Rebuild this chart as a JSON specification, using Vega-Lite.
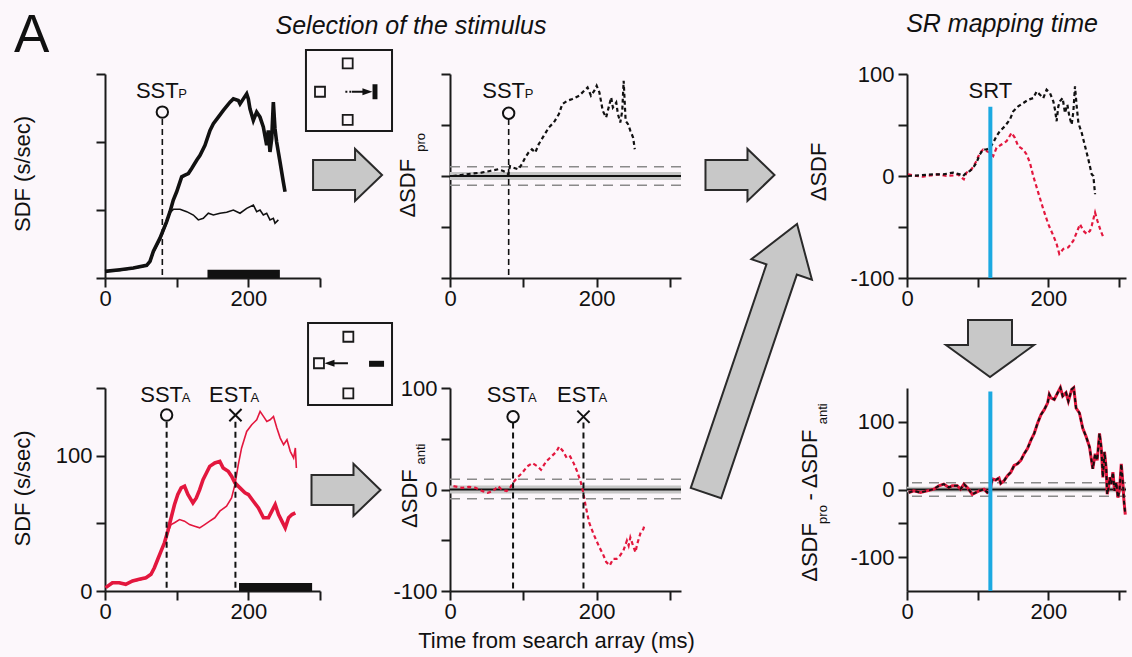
{
  "$schema": "https://vega.github.io/schema/vega-lite/v6.json",
  "background": "#fcf7fb",
  "padding": 0,
  "columns": 7,
  "spacing": 0,
  "align": "each",
  "bounds": "flush",
  "datasets": {
    "tl": [
      {"series":"target","t":0,"v":4.9},{"series":"target","t":20.9,"v":6.1},{"series":"target","t":39.5,"v":7.3},{"series":"target","t":58.1,"v":9.3},{"series":"target","t":62.8,"v":12.2},{"series":"target","t":67.4,"v":19.5},{"series":"target","t":76.7,"v":29.3},{"series":"target","t":86,"v":41.5},{"series":"target","t":90.7,"v":48.8},{"series":"target","t":95.3,"v":57.3},{"series":"target","t":100,"v":63.4},{"series":"target","t":107,"v":74.4},{"series":"target","t":111.6,"v":75.6},{"series":"target","t":116.3,"v":76.8},{"series":"target","t":120.9,"v":80.5},{"series":"target","t":127.9,"v":86.6},{"series":"target","t":132.6,"v":90.2},{"series":"target","t":139.5,"v":97.6},{"series":"target","t":146.5,"v":108.5},{"series":"target","t":151.2,"v":113.4},{"series":"target","t":158.1,"v":118.3},{"series":"target","t":165.1,"v":123.2},{"series":"target","t":174.4,"v":129.3},{"series":"target","t":179.1,"v":131.7},{"series":"target","t":186,"v":130.5},{"series":"target","t":188.4,"v":128},{"series":"target","t":193,"v":131.7},{"series":"target","t":197.7,"v":135.4},{"series":"target","t":200,"v":131.7},{"series":"target","t":202.3,"v":124.4},{"series":"target","t":207,"v":115.9},{"series":"target","t":211.6,"v":122},{"series":"target","t":216.3,"v":118.3},{"series":"target","t":220.9,"v":111},{"series":"target","t":225.6,"v":97.6},{"series":"target","t":227.9,"v":108.5},{"series":"target","t":230.2,"v":92.7},{"series":"target","t":232.6,"v":102.4},{"series":"target","t":234.9,"v":129.3},{"series":"target","t":237.2,"v":109.8},{"series":"target","t":239.5,"v":100},{"series":"target","t":244.2,"v":85.4},{"series":"target","t":248.8,"v":70.7},{"series":"target","t":251.2,"v":63.4},
      {"series":"distractor","t":0,"v":4.9},{"series":"distractor","t":20.9,"v":5.5},{"series":"distractor","t":39.5,"v":7},{"series":"distractor","t":58.1,"v":9},{"series":"distractor","t":62.8,"v":11.5},{"series":"distractor","t":67.4,"v":18.5},{"series":"distractor","t":76.7,"v":28},{"series":"distractor","t":86,"v":40},{"series":"distractor","t":90.7,"v":48},{"series":"distractor","t":95.3,"v":50.5},{"series":"distractor","t":104.7,"v":50.5},{"series":"distractor","t":114,"v":48.8},{"series":"distractor","t":123.3,"v":46.3},{"series":"distractor","t":130.2,"v":42.7},{"series":"distractor","t":137.2,"v":43.9},{"series":"distractor","t":144.2,"v":47.6},{"series":"distractor","t":151.2,"v":46.3},{"series":"distractor","t":160.5,"v":47.6},{"series":"distractor","t":169.8,"v":48.3},{"series":"distractor","t":179.1,"v":50},{"series":"distractor","t":188.4,"v":47.6},{"series":"distractor","t":197.7,"v":51.2},{"series":"distractor","t":207,"v":53.7},{"series":"distractor","t":211.6,"v":48.8},{"series":"distractor","t":216.3,"v":50},{"series":"distractor","t":220.9,"v":46.3},{"series":"distractor","t":225.6,"v":47.6},{"series":"distractor","t":230.2,"v":42.7},{"series":"distractor","t":234.9,"v":43.9},{"series":"distractor","t":237.2,"v":40.2},{"series":"distractor","t":241.9,"v":42.7}
    ],
    "bl": [
      {"series":"stimulus","t":0.9,"v":2.5},{"series":"stimulus","t":10.3,"v":6.1},{"series":"stimulus","t":19.7,"v":6.1},{"series":"stimulus","t":29,"v":4.9},{"series":"stimulus","t":38.4,"v":7.4},{"series":"stimulus","t":47.8,"v":8.6},{"series":"stimulus","t":57.1,"v":9.8},{"series":"stimulus","t":64.2,"v":12.3},{"series":"stimulus","t":68.9,"v":17.2},{"series":"stimulus","t":73.5,"v":23.3},{"series":"stimulus","t":78.2,"v":29.5},{"series":"stimulus","t":82.9,"v":35.6},{"series":"stimulus","t":87.6,"v":44.2},{"series":"stimulus","t":92.3,"v":54.1},{"series":"stimulus","t":97,"v":63.9},{"series":"stimulus","t":101.6,"v":71.3},{"series":"stimulus","t":106.3,"v":76.2},{"series":"stimulus","t":111,"v":77.4},{"series":"stimulus","t":115.7,"v":71.3},{"series":"stimulus","t":122.7,"v":65.1},{"series":"stimulus","t":127.4,"v":68.8},{"series":"stimulus","t":132.1,"v":74.9},{"series":"stimulus","t":136.8,"v":82.3},{"series":"stimulus","t":141.5,"v":87.2},{"series":"stimulus","t":146.1,"v":92.1},{"series":"stimulus","t":153.2,"v":94.6},{"series":"stimulus","t":160.2,"v":95.8},{"series":"stimulus","t":164.9,"v":90.9},{"series":"stimulus","t":171.9,"v":88.5},{"series":"stimulus","t":176.6,"v":84.8},{"series":"stimulus","t":181.3,"v":79.9},{"series":"stimulus","t":188.3,"v":76.2},{"series":"stimulus","t":195.3,"v":72.5},{"series":"stimulus","t":200,"v":71.3},{"series":"stimulus","t":207,"v":66.3},{"series":"stimulus","t":214.1,"v":61.4},{"series":"stimulus","t":221.1,"v":54.1},{"series":"stimulus","t":228.1,"v":54.1},{"series":"stimulus","t":232.8,"v":59},{"series":"stimulus","t":237.5,"v":63.9},{"series":"stimulus","t":242.2,"v":56.5},{"series":"stimulus","t":246.8,"v":51.6},{"series":"stimulus","t":251.5,"v":46.7},{"series":"stimulus","t":256.2,"v":54.1},{"series":"stimulus","t":260.9,"v":56.5},{"series":"stimulus","t":265.6,"v":57.7},
      {"series":"saccade","t":0.9,"v":2.5},{"series":"saccade","t":10.3,"v":5.5},{"series":"saccade","t":19.7,"v":6.5},{"series":"saccade","t":29,"v":5.2},{"series":"saccade","t":38.4,"v":7},{"series":"saccade","t":47.8,"v":8.2},{"series":"saccade","t":57.1,"v":9.5},{"series":"saccade","t":64.2,"v":12},{"series":"saccade","t":68.9,"v":17},{"series":"saccade","t":73.5,"v":23},{"series":"saccade","t":78.2,"v":29},{"series":"saccade","t":82.9,"v":35},{"series":"saccade","t":87.6,"v":43},{"series":"saccade","t":92.3,"v":49.1},{"series":"saccade","t":97,"v":50.4},{"series":"saccade","t":104,"v":52.8},{"series":"saccade","t":111,"v":51.6},{"series":"saccade","t":118,"v":49.1},{"series":"saccade","t":125.1,"v":47.9},{"series":"saccade","t":132.1,"v":46.7},{"series":"saccade","t":139.1,"v":49.1},{"series":"saccade","t":146.1,"v":51.6},{"series":"saccade","t":153.2,"v":54.1},{"series":"saccade","t":160.2,"v":59},{"series":"saccade","t":169.6,"v":62.7},{"series":"saccade","t":176.6,"v":68.8},{"series":"saccade","t":181.3,"v":78.6},{"series":"saccade","t":186,"v":93.4},{"series":"saccade","t":190.6,"v":105.7},{"series":"saccade","t":197.7,"v":117.9},{"series":"saccade","t":204.7,"v":122.9},{"series":"saccade","t":211.7,"v":126.5},{"series":"saccade","t":216.4,"v":132.7},{"series":"saccade","t":221.1,"v":129},{"series":"saccade","t":225.8,"v":125.3},{"series":"saccade","t":230.4,"v":126.5},{"series":"saccade","t":235.1,"v":129},{"series":"saccade","t":239.8,"v":120.4},{"series":"saccade","t":244.5,"v":113},{"series":"saccade","t":249.2,"v":108.1},{"series":"saccade","t":253.9,"v":111.8},{"series":"saccade","t":258.5,"v":103.2},{"series":"saccade","t":263.2,"v":98.3},{"series":"saccade","t":265.6,"v":105.7},{"series":"saccade","t":267,"v":90.9}
    ],
    "tm": [
      {"t":3.7,"v":0},{"t":15.2,"v":1},{"t":29,"v":2.3},{"t":42.8,"v":3.3},{"t":54.3,"v":4.9},{"t":65.7,"v":6.6},{"t":72.6,"v":4.9},{"t":77.2,"v":3.3},{"t":79.5,"v":1.6},{"t":81.8,"v":9.8},{"t":86.4,"v":8.2},{"t":93.3,"v":6.6},{"t":97.9,"v":11.5},{"t":102.5,"v":18},{"t":107.1,"v":23},{"t":111.7,"v":26.2},{"t":116.3,"v":23},{"t":120.9,"v":31.1},{"t":127.8,"v":39.3},{"t":134.7,"v":47.5},{"t":141.6,"v":52.5},{"t":148.5,"v":60.7},{"t":153.1,"v":70.5},{"t":160,"v":73.8},{"t":166.9,"v":75.4},{"t":176.1,"v":78.7},{"t":183,"v":83.6},{"t":187.6,"v":86.9},{"t":192.2,"v":78.7},{"t":196.8,"v":83.6},{"t":200,"v":88.5},{"t":203.7,"v":82},{"t":208.3,"v":63.9},{"t":212.9,"v":57.4},{"t":217.5,"v":70.5},{"t":219.8,"v":77},{"t":222.1,"v":67.2},{"t":226.7,"v":72.1},{"t":229,"v":60.7},{"t":232.2,"v":52.5},{"t":234.9,"v":63.9},{"t":236.8,"v":93.4},{"t":239.5,"v":54.1},{"t":242.8,"v":50.8},{"t":246,"v":44.3},{"t":249.7,"v":37.7},{"t":252,"v":26.2}
    ],
    "bm": [
      {"t":4.7,"v":3.3},{"t":16.4,"v":1.6},{"t":25.8,"v":2.6},{"t":35.1,"v":1.6},{"t":44.5,"v":-1.6},{"t":51.5,"v":-3.3},{"t":58.5,"v":-1.6},{"t":65.6,"v":3.3},{"t":70.3,"v":0},{"t":77.3,"v":-1.6},{"t":82,"v":1.6},{"t":85.7,"v":6.5},{"t":91.3,"v":11.4},{"t":98.4,"v":16.3},{"t":105.4,"v":22.8},{"t":112.4,"v":26},{"t":119.4,"v":22.8},{"t":124.1,"v":19.5},{"t":131.1,"v":27.6},{"t":138.2,"v":32.5},{"t":145.2,"v":37.4},{"t":148.9,"v":42.3},{"t":154.6,"v":37.4},{"t":159.3,"v":30.9},{"t":163.9,"v":32.5},{"t":168.6,"v":26},{"t":173.3,"v":17.9},{"t":178,"v":8.1},{"t":181.3,"v":-1.6},{"t":185,"v":-16.3},{"t":189.7,"v":-32.5},{"t":196.7,"v":-45.5},{"t":203.7,"v":-56.9},{"t":208.4,"v":-63.4},{"t":213.1,"v":-71.5},{"t":217.8,"v":-74.8},{"t":222.5,"v":-68.3},{"t":227.2,"v":-68.3},{"t":231.9,"v":-65},{"t":236.5,"v":-60.2},{"t":241.2,"v":-50.4},{"t":243.6,"v":-55.3},{"t":245.9,"v":-47.2},{"t":249.6,"v":-55.3},{"t":252.9,"v":-61.8},{"t":255.3,"v":-53.7},{"t":260,"v":-42.3},{"t":263.7,"v":-39},{"t":265.6,"v":-34.1}
    ],
    "tr": [
      {"series":"pro","t":1.4,"v":0},{"series":"pro","t":18,"v":0.7},{"series":"pro","t":36.9,"v":1.6},{"series":"pro","t":51.1,"v":1.6},{"series":"pro","t":65.2,"v":3.3},{"series":"pro","t":74.7,"v":1.6},{"series":"pro","t":79.4,"v":0},{"series":"pro","t":84.2,"v":3.3},{"series":"pro","t":88.9,"v":4.9},{"series":"pro","t":93.6,"v":8.1},{"series":"pro","t":98.3,"v":13},{"series":"pro","t":103.1,"v":21.1},{"series":"pro","t":107.8,"v":26},{"series":"pro","t":112.5,"v":26},{"series":"pro","t":117.3,"v":27.6},{"series":"pro","t":122,"v":32.5},{"series":"pro","t":126.7,"v":39},{"series":"pro","t":131.4,"v":43.9},{"series":"pro","t":138.5,"v":48.8},{"series":"pro","t":145.6,"v":55.3},{"series":"pro","t":150.4,"v":63.4},{"series":"pro","t":157.4,"v":68.3},{"series":"pro","t":164.5,"v":71.5},{"series":"pro","t":171.6,"v":74.8},{"series":"pro","t":178.7,"v":76.4},{"series":"pro","t":183.5,"v":82.9},{"series":"pro","t":188.2,"v":79.7},{"series":"pro","t":192.9,"v":76.4},{"series":"pro","t":197.6,"v":84.6},{"series":"pro","t":202.4,"v":81.3},{"series":"pro","t":207.1,"v":73.2},{"series":"pro","t":209.5,"v":65},{"series":"pro","t":211.8,"v":53.7},{"series":"pro","t":214.2,"v":68.3},{"series":"pro","t":216.5,"v":73.2},{"series":"pro","t":220.3,"v":76.4},{"series":"pro","t":223.6,"v":61.8},{"series":"pro","t":227,"v":69.9},{"series":"pro","t":229.8,"v":58.5},{"series":"pro","t":233.1,"v":50.4},{"series":"pro","t":235.5,"v":63.4},{"series":"pro","t":237.8,"v":87.8},{"series":"pro","t":240.2,"v":68.3},{"series":"pro","t":242.6,"v":52},{"series":"pro","t":247.3,"v":42.3},{"series":"pro","t":252,"v":29.3},{"series":"pro","t":256.7,"v":16.3},{"series":"pro","t":261.5,"v":1.6},{"series":"pro","t":263.8,"v":0},{"series":"pro","t":266.2,"v":-17.9},
      {"series":"anti","t":1.4,"v":1.6},{"series":"anti","t":13.2,"v":0},{"series":"anti","t":22.7,"v":-0.7},{"series":"anti","t":34.5,"v":0.7},{"series":"anti","t":44,"v":1.6},{"series":"anti","t":55.8,"v":0},{"series":"anti","t":65.2,"v":0.7},{"series":"anti","t":72.3,"v":1.6},{"series":"anti","t":77.1,"v":-1.6},{"series":"anti","t":80.4,"v":-3.3},{"series":"anti","t":84.2,"v":3.3},{"series":"anti","t":91.3,"v":6.5},{"series":"anti","t":98.3,"v":14.6},{"series":"anti","t":103.1,"v":22.8},{"series":"anti","t":107.8,"v":26},{"series":"anti","t":112.5,"v":24.4},{"series":"anti","t":117.3,"v":22.8},{"series":"anti","t":122,"v":19.5},{"series":"anti","t":126.7,"v":27.6},{"series":"anti","t":133.8,"v":30.9},{"series":"anti","t":140.9,"v":34.1},{"series":"anti","t":148,"v":42.3},{"series":"anti","t":152.7,"v":37.4},{"series":"anti","t":157.4,"v":29.3},{"series":"anti","t":164.5,"v":26},{"series":"anti","t":169.3,"v":21.1},{"series":"anti","t":174,"v":13},{"series":"anti","t":178.7,"v":0},{"series":"anti","t":185.8,"v":-16.3},{"series":"anti","t":192.9,"v":-32.5},{"series":"anti","t":200,"v":-47.2},{"series":"anti","t":207.1,"v":-58.5},{"series":"anti","t":211.8,"v":-66.7},{"series":"anti","t":215.6,"v":-76.4},{"series":"anti","t":221.3,"v":-71.5},{"series":"anti","t":228.4,"v":-69.9},{"series":"anti","t":235.5,"v":-63.4},{"series":"anti","t":240.2,"v":-55.3},{"series":"anti","t":244.9,"v":-47.2},{"series":"anti","t":249.6,"v":-53.7},{"series":"anti","t":254.4,"v":-56.9},{"series":"anti","t":259.1,"v":-53.7},{"series":"anti","t":261.5,"v":-48.8},{"series":"anti","t":263.8,"v":-42.3},{"series":"anti","t":266.2,"v":-35.8},{"series":"anti","t":269.5,"v":-43.9},{"series":"anti","t":274.2,"v":-53.7},{"series":"anti","t":278,"v":-60.2}
    ],
    "br": [
      {"t":2.4,"v":-4.5},{"t":9.5,"v":-2},{"t":19,"v":-4.5},{"t":28.4,"v":-2},{"t":37.9,"v":0.5},{"t":45,"v":5.5},{"t":52.1,"v":8},{"t":59.2,"v":3},{"t":64,"v":5.5},{"t":71.1,"v":5.5},{"t":75.8,"v":0.5},{"t":80.6,"v":8},{"t":85.3,"v":3},{"t":92.4,"v":-7},{"t":97.2,"v":-4.5},{"t":101.9,"v":-2},{"t":109,"v":0.5},{"t":113.7,"v":-4.5},{"t":117.5,"v":-2},{"t":120.9,"v":15.5},{"t":125.6,"v":14},{"t":130.3,"v":17},{"t":132.7,"v":9},{"t":137.4,"v":13},{"t":142.2,"v":20.5},{"t":146.9,"v":25.5},{"t":151.7,"v":35.5},{"t":156.4,"v":38},{"t":161.1,"v":43},{"t":165.9,"v":53},{"t":170.6,"v":60.5},{"t":175.4,"v":73},{"t":180.1,"v":83},{"t":184.8,"v":98},{"t":189.6,"v":110.5},{"t":194.3,"v":118},{"t":199.1,"v":128},{"t":201.4,"v":140.5},{"t":203.8,"v":135.5},{"t":208.5,"v":133},{"t":213.3,"v":143},{"t":217.1,"v":150.5},{"t":220.4,"v":138},{"t":225.1,"v":143},{"t":228.4,"v":130.5},{"t":233.2,"v":148},{"t":236,"v":150.5},{"t":239.3,"v":120.5},{"t":244.1,"v":113},{"t":248.8,"v":90.5},{"t":253.6,"v":78},{"t":258.3,"v":63},{"t":263,"v":30.5},{"t":266.4,"v":53},{"t":269.2,"v":43},{"t":272.5,"v":83},{"t":274.9,"v":63},{"t":277.3,"v":18},{"t":279.6,"v":55.5},{"t":282,"v":30.5},{"t":283.4,"v":-7},{"t":285.3,"v":3},{"t":287.2,"v":18},{"t":289.1,"v":8},{"t":291.5,"v":25.5},{"t":293.8,"v":-2},{"t":296.2,"v":10.5},{"t":298.6,"v":-12},{"t":300.9,"v":0.5},{"t":303.3,"v":38},{"t":305.7,"v":8},{"t":307.1,"v":-17},{"t":309,"v":-37}
    ],
    "events": [
      {"panel":"TL","label":"SST","sub":"P","t":80},
      {"panel":"TM","label":"SST","sub":"P","t":80},
      {"panel":"BL","label":"SST","sub":"A","t":86},
      {"panel":"BL","label":"EST","sub":"A","t":182},
      {"panel":"BM","label":"SST","sub":"A","t":86},
      {"panel":"BM","label":"EST","sub":"A","t":182},
      {"panel":"TR","label":"SRT","sub":"","t":118},
      {"panel":"BR","label":"SRT","sub":"","t":118}
    ],
    "bars": [
      {"panel":"TL","start":143,"end":244},
      {"panel":"BL","start":187,"end":289}
    ],
    "levels": [
      {"panel":"TM","lvl":9},{"panel":"TM","lvl":-9},
      {"panel":"BM","lvl":10},{"panel":"BM","lvl":-9},
      {"panel":"BR","lvl":10},{"panel":"BR","lvl":-10}
    ]
  },
  "concat": [
    {"width":105,"height":74,"data":{"values":[{}]},
     "mark":{"type":"text","text":"A","fontSize":53,"align":"left","baseline":"alphabetic"},
     "encoding":{"x":{"datum":13.3,"type":"quantitative","scale":{"domain":[0,100],"nice":false},"axis":null},
                 "y":{"datum":29.7,"type":"quantitative","scale":{"domain":[0,100],"nice":false},"axis":null}}},
    {"width":215,"height":74,"data":{"values":[]},"mark":"point"},
    {"width":130,"height":74,"data":{"values":[{}]},
     "mark":{"type":"text","text":"Selection of the stimulus","fontSize":25,"fontStyle":"italic","align":"center","baseline":"alphabetic"},
     "encoding":{"x":{"datum":70,"type":"quantitative","scale":{"domain":[0,100],"nice":false},"axis":null},
                 "y":{"datum":54.1,"type":"quantitative","scale":{"domain":[0,100],"nice":false},"axis":null}}},
    {"width":231,"height":74,"data":{"values":[]},"mark":"point"},
    {"width":226,"height":74,"data":{"values":[]},"mark":"point"},
    {"width":219,"height":74,"data":{"values":[{}]},
     "mark":{"type":"text","text":"SR mapping time","fontSize":25,"fontStyle":"italic","align":"center","baseline":"alphabetic"},
     "encoding":{"x":{"datum":43.4,"type":"quantitative","scale":{"domain":[0,100],"nice":false},"axis":null},
                 "y":{"datum":56.8,"type":"quantitative","scale":{"domain":[0,100],"nice":false},"axis":null}}},
    {"width":6,"height":74,"data":{"values":[]},"mark":"point"},

    {"width":105,"height":204,"data":{"values":[]},"mark":"point"},
    {"width":215,"height":204,
     "layer":[
       {"data":{"name":"tl"},"transform":[{"filter":"datum.series == 'distractor'"}],
        "mark":{"type":"line","color":"#111111","strokeWidth":1.6},
        "encoding":{
          "x":{"field":"t","type":"quantitative","scale":{"domain":[0,300],"nice":false},
               "axis":{"values":[0,100,200,300],"labelExpr":"datum.value == 0 || datum.value == 200 ? datum.label : ''","labelOverlap":false,"title":null}},
          "y":{"field":"v","type":"quantitative","scale":{"domain":[0,150],"nice":false},
               "axis":{"values":[0,50,100,150],"labels":false,"title":null}}}},
       {"data":{"name":"tl"},"transform":[{"filter":"datum.series == 'target'"}],
        "mark":{"type":"line","color":"#111111","strokeWidth":3.6},
        "encoding":{"x":{"field":"t","type":"quantitative"},"y":{"field":"v","type":"quantitative"}}},
       {"data":{"name":"bars"},"transform":[{"filter":"datum.panel == 'TL'"}],
        "mark":{"type":"rect","color":"#111111"},
        "encoding":{"x":{"field":"start","type":"quantitative"},"x2":{"field":"end"},
                    "y":{"datum":0,"type":"quantitative"},"y2":{"datum":6}}},
       {"data":{"name":"events"},"transform":[{"filter":"datum.panel == 'TL'"}],
        "layer":[
          {"mark":{"type":"rule","color":"#111111","strokeWidth":1.6,"strokeDash":[6,4]},
           "encoding":{"x":{"field":"t","type":"quantitative"},"y":{"datum":117,"type":"quantitative"},"y2":{"datum":0}}},
          {"mark":{"type":"point","shape":"circle","size":130,"filled":false,"color":"#111111","strokeWidth":2,"opacity":1},
           "encoding":{"x":{"field":"t","type":"quantitative"},"y":{"datum":122,"type":"quantitative"}}},
          {"mark":{"type":"text","fontSize":22,"align":"center","baseline":"alphabetic","dx":-5},
           "encoding":{"x":{"field":"t","type":"quantitative"},"y":{"datum":132,"type":"quantitative"},"text":{"field":"label"}}},
          {"mark":{"type":"text","fontSize":13,"align":"left","baseline":"alphabetic","dx":16},
           "encoding":{"x":{"field":"t","type":"quantitative"},"y":{"datum":132,"type":"quantitative"},"text":{"field":"sub"}}}
        ]},
       {"data":{"values":[{}]},
        "mark":{"type":"text","text":"SDF (s/sec)","angle":270,"fontSize":22,"align":"center","baseline":"middle"},
        "encoding":{"x":{"datum":-114.4,"type":"quantitative"},"y":{"datum":76.5,"type":"quantitative"}}}
     ]},
    {"width":130,"height":204,"data":{"values":[{}]},
     "encoding":{"x":{"type":"quantitative","scale":{"domain":[0,100],"nice":false},"axis":null},
                 "y":{"type":"quantitative","scale":{"domain":[0,100],"nice":false},"axis":null}},
     "layer":[
       {"mark":{"type":"rect","filled":false,"color":"#1a1a1a","strokeWidth":2},
        "encoding":{"x":{"datum":-10.8},"x2":{"datum":55.4},"y":{"datum":72.1},"y2":{"datum":111.8}}},
       {"mark":{"type":"point","shape":"square","size":100,"filled":false,"color":"#1a1a1a","strokeWidth":1.8,"opacity":1},
        "encoding":{"x":{"datum":21.3},"y":{"datum":105.2}}},
       {"mark":{"type":"point","shape":"square","size":100,"filled":false,"color":"#1a1a1a","strokeWidth":1.8,"opacity":1},
        "encoding":{"x":{"datum":0},"y":{"datum":91.3}}},
       {"mark":{"type":"point","shape":"square","size":100,"filled":false,"color":"#1a1a1a","strokeWidth":1.8,"opacity":1},
        "encoding":{"x":{"datum":21.3},"y":{"datum":77.5}}},
       {"mark":{"type":"point","shape":"M-0.33,-1L0.33,-1L0.33,1L-0.33,1Z","size":225,"filled":true,"color":"#111111","opacity":1},
        "encoding":{"x":{"datum":42.3},"y":{"datum":91.3}}},
       {"mark":{"type":"rule","color":"#111111","strokeWidth":2,"strokeDash":[2,2]},
        "encoding":{"x":{"datum":19.5},"x2":{"datum":24.6},"y":{"datum":91.3}}},
       {"mark":{"type":"rule","color":"#111111","strokeWidth":2},
        "encoding":{"x":{"datum":24.6},"x2":{"datum":35.4},"y":{"datum":91.3}}},
       {"mark":{"type":"point","shape":"M-1,-0.7L1,0L-1,0.7Z","size":100,"filled":true,"color":"#111111","opacity":1},
        "encoding":{"x":{"datum":36.5},"y":{"datum":91.3}}},
       {"mark":{"type":"point","shape":"M-1,-0.435L0.217,-0.435L0.217,-0.754L1,0L0.217,0.754L0.217,0.435L-1,0.435Z","size":4761,"filled":true,"fill":"#c8c8c8","stroke":"#2a2a2a","strokeWidth":2,"opacity":1},
        "encoding":{"x":{"datum":21.2},"y":{"datum":50.5}}}
     ]},
    {"width":231,"height":204,
     "layer":[
       {"data":{"values":[{}]},"mark":{"type":"rect","color":"#c6c6c6"},
        "encoding":{"y":{"datum":-4,"type":"quantitative"},"y2":{"datum":4}}},
       {"data":{"name":"levels"},"transform":[{"filter":"datum.panel == 'TM'"}],
        "mark":{"type":"rule","color":"#8a8a8a","strokeWidth":1.5,"strokeDash":[10,7]},
        "encoding":{"y":{"field":"lvl","type":"quantitative"}}},
       {"data":{"values":[{}]},"mark":{"type":"rule","color":"#111111","strokeWidth":2},
        "encoding":{"y":{"datum":0,"type":"quantitative"}}},
       {"data":{"name":"tm"},
        "mark":{"type":"line","color":"#111111","strokeWidth":2.2,"strokeDash":[4,3]},
        "encoding":{
          "x":{"field":"t","type":"quantitative","scale":{"domain":[0,315],"nice":false},
               "axis":{"values":[0,100,200,300],"labelExpr":"datum.value == 0 || datum.value == 200 ? datum.label : ''","labelOverlap":false,"title":null}},
          "y":{"field":"v","type":"quantitative","scale":{"domain":[-100,100],"nice":false},
               "axis":{"values":[-100,-50,0,50,100],"labels":false,"title":null}}}},
       {"data":{"name":"events"},"transform":[{"filter":"datum.panel == 'TM'"}],
        "layer":[
          {"mark":{"type":"rule","color":"#111111","strokeWidth":1.6,"strokeDash":[6,4]},
           "encoding":{"x":{"field":"t","type":"quantitative"},"y":{"datum":56,"type":"quantitative"},"y2":{"datum":-100}}},
          {"mark":{"type":"point","shape":"circle","size":130,"filled":false,"color":"#111111","strokeWidth":2,"opacity":1},
           "encoding":{"x":{"field":"t","type":"quantitative"},"y":{"datum":61.5,"type":"quantitative"}}},
          {"mark":{"type":"text","fontSize":22,"align":"center","baseline":"alphabetic","dx":-5},
           "encoding":{"x":{"field":"t","type":"quantitative"},"y":{"datum":76.2,"type":"quantitative"},"text":{"field":"label"}}},
          {"mark":{"type":"text","fontSize":13,"align":"left","baseline":"alphabetic","dx":16},
           "encoding":{"x":{"field":"t","type":"quantitative"},"y":{"datum":76.2,"type":"quantitative"},"text":{"field":"sub"}}}
        ]},
       {"data":{"values":[{}]},
        "mark":{"type":"text","text":"ΔSDF","angle":270,"fontSize":22,"align":"center","baseline":"middle"},
        "encoding":{"x":{"datum":-56.6,"type":"quantitative"},"y":{"datum":-12,"type":"quantitative"}}},
       {"data":{"values":[{}]},
        "mark":{"type":"text","text":"pro","angle":270,"fontSize":13,"align":"center","baseline":"middle"},
        "encoding":{"x":{"datum":-40,"type":"quantitative"},"y":{"datum":33,"type":"quantitative"}}}
     ]},
    {"width":226,"height":204,"data":{"values":[{}]},
     "mark":{"type":"point","shape":"M-1,-0.435L0.217,-0.435L0.217,-0.754L1,0L0.217,0.754L0.217,0.435L-1,0.435Z","size":4761,"filled":true,"fill":"#c8c8c8","stroke":"#2a2a2a","strokeWidth":2,"opacity":1},
     "encoding":{"x":{"datum":26.1,"type":"quantitative","scale":{"domain":[0,100],"nice":false},"axis":null},
                 "y":{"datum":50.5,"type":"quantitative","scale":{"domain":[0,100],"nice":false},"axis":null}}},
    {"width":219,"height":204,
     "layer":[
       {"data":{"name":"tr"},"transform":[{"filter":"datum.series == 'anti'"}],
        "mark":{"type":"line","color":"#e3173e","strokeWidth":2.2,"strokeDash":[4,3]},
        "encoding":{
          "x":{"field":"t","type":"quantitative","scale":{"domain":[0,310],"nice":false},
               "axis":{"values":[0,100,200,300],"labelExpr":"datum.value == 0 || datum.value == 200 ? datum.label : ''","labelOverlap":false,"title":null}},
          "y":{"field":"v","type":"quantitative","scale":{"domain":[-100,100],"nice":false},
               "axis":{"values":[-100,-50,0,50,100],"labelExpr":"datum.value == 100 ? '100' : datum.value == 0 ? '0' : datum.value == -100 ? '-100' : ''","labelOverlap":false,"title":null}}}},
       {"data":{"name":"tr"},"transform":[{"filter":"datum.series == 'pro'"}],
        "mark":{"type":"line","color":"#111111","strokeWidth":2.2,"strokeDash":[4,3]},
        "encoding":{"x":{"field":"t","type":"quantitative"},"y":{"field":"v","type":"quantitative"}}},
       {"data":{"name":"events"},"transform":[{"filter":"datum.panel == 'TR'"}],
        "layer":[
          {"mark":{"type":"rule","color":"#1ca9e1","strokeWidth":4},
           "encoding":{"x":{"field":"t","type":"quantitative"},"y":{"datum":68,"type":"quantitative"},"y2":{"datum":-100}}},
          {"mark":{"type":"text","fontSize":22,"align":"center","baseline":"alphabetic"},
           "encoding":{"x":{"field":"t","type":"quantitative"},"y":{"datum":76,"type":"quantitative"},"text":{"field":"label"}}}
        ]},
       {"data":{"values":[{}]},
        "mark":{"type":"text","text":"ΔSDF","angle":270,"fontSize":22,"align":"center","baseline":"middle"},
        "encoding":{"x":{"datum":-124.6,"type":"quantitative"},"y":{"datum":4,"type":"quantitative"}}}
     ]},
    {"width":6,"height":204,"data":{"values":[]},"mark":"point"},

    {"width":105,"height":110,"data":{"values":[]},"mark":"point"},
    {"width":215,"height":110,"data":{"values":[]},"mark":"point"},
    {"width":130,"height":110,"data":{"values":[{}]},
     "encoding":{"x":{"type":"quantitative","scale":{"domain":[0,100],"nice":false},"axis":null},
                 "y":{"type":"quantitative","scale":{"domain":[0,100],"nice":false},"axis":null}},
     "layer":[
       {"mark":{"type":"rect","filled":false,"color":"#1a1a1a","strokeWidth":2},
        "encoding":{"x":{"datum":-9.2},"x2":{"datum":55.4},"y":{"datum":-15.5},"y2":{"datum":59.1}}},
       {"mark":{"type":"point","shape":"square","size":100,"filled":false,"color":"#1a1a1a","strokeWidth":1.8,"opacity":1},
        "encoding":{"x":{"datum":21.8},"y":{"datum":46.6}}},
       {"mark":{"type":"point","shape":"square","size":100,"filled":false,"color":"#1a1a1a","strokeWidth":1.8,"opacity":1},
        "encoding":{"x":{"datum":-0.8},"y":{"datum":22.5}}},
       {"mark":{"type":"point","shape":"square","size":100,"filled":false,"color":"#1a1a1a","strokeWidth":1.8,"opacity":1},
        "encoding":{"x":{"datum":21.8},"y":{"datum":-4.8}}},
       {"mark":{"type":"point","shape":"M-1,-0.4L1,-0.4L1,0.4L-1,0.4Z","size":225,"filled":true,"color":"#111111","opacity":1},
        "encoding":{"x":{"datum":43.5},"y":{"datum":22}}},
       {"mark":{"type":"rule","color":"#111111","strokeWidth":2},
        "encoding":{"x":{"datum":10},"x2":{"datum":21.5},"y":{"datum":22.5}}},
       {"mark":{"type":"point","shape":"M1,-0.7L-1,0L1,0.7Z","size":100,"filled":true,"color":"#111111","opacity":1},
        "encoding":{"x":{"datum":7.3},"y":{"datum":22.5}}}
     ]},
    {"width":231,"height":110,"data":{"values":[]},"mark":"point"},
    {"width":226,"height":110,"data":{"values":[{}]},
     "mark":{"type":"point","shape":"M-1,-0.113L0.662,-0.113L0.662,-0.225L1,0L0.662,0.225L0.662,0.113L-1,0.113Z","size":80656,"angle":288.7,"filled":true,"fill":"#c8c8c8","stroke":"#2a2a2a","strokeWidth":2,"opacity":1},
     "encoding":{"x":{"datum":31.2,"type":"quantitative","scale":{"domain":[0,100],"nice":false},"axis":null},
                 "y":{"datum":26.8,"type":"quantitative","scale":{"domain":[0,100],"nice":false},"axis":null}}},
    {"width":219,"height":110,"data":{"values":[{}]},
     "mark":{"type":"point","shape":"M-0.5,-0.648L0.5,-0.648L0.5,-0.079L1,-0.079L0,0.648L-1,-0.079L-0.5,-0.079Z","size":7744,"filled":true,"fill":"#c8c8c8","stroke":"#2a2a2a","strokeWidth":2,"opacity":1},
     "encoding":{"x":{"datum":37.9,"type":"quantitative","scale":{"domain":[0,100],"nice":false},"axis":null},
                 "y":{"datum":35.9,"type":"quantitative","scale":{"domain":[0,100],"nice":false},"axis":null}}},
    {"width":6,"height":110,"data":{"values":[]},"mark":"point"},

    {"width":105,"height":203,"data":{"values":[]},"mark":"point"},
    {"width":215,"height":203,
     "layer":[
       {"data":{"name":"bl"},"transform":[{"filter":"datum.series == 'saccade'"}],
        "mark":{"type":"line","color":"#e3173e","strokeWidth":1.6},
        "encoding":{
          "x":{"field":"t","type":"quantitative","scale":{"domain":[0,300],"nice":false},
               "axis":{"values":[0,100,200,300],"labelExpr":"datum.value == 0 || datum.value == 200 ? datum.label : ''","labelOverlap":false,"title":null}},
          "y":{"field":"v","type":"quantitative","scale":{"domain":[0,150],"nice":false},
               "axis":{"values":[0,50,100,150],"labelExpr":"datum.value == 0 || datum.value == 100 ? datum.label : ''","labelOverlap":false,"title":null}}}},
       {"data":{"name":"bl"},"transform":[{"filter":"datum.series == 'stimulus'"}],
        "mark":{"type":"line","color":"#e3173e","strokeWidth":3.6},
        "encoding":{"x":{"field":"t","type":"quantitative"},"y":{"field":"v","type":"quantitative"}}},
       {"data":{"name":"bars"},"transform":[{"filter":"datum.panel == 'BL'"}],
        "mark":{"type":"rect","color":"#111111"},
        "encoding":{"x":{"field":"start","type":"quantitative"},"x2":{"field":"end"},
                    "y":{"datum":0,"type":"quantitative"},"y2":{"datum":6}}},
       {"data":{"name":"events"},"transform":[{"filter":"datum.panel == 'BL'"}],
        "layer":[
          {"mark":{"type":"rule","color":"#111111","strokeWidth":2,"strokeDash":[6,4]},
           "encoding":{"x":{"field":"t","type":"quantitative"},"y":{"datum":125,"type":"quantitative"},"y2":{"datum":0}}},
          {"transform":[{"filter":"datum.label == 'SST'"}],
           "mark":{"type":"point","shape":"circle","size":130,"filled":false,"color":"#111111","strokeWidth":2,"opacity":1},
           "encoding":{"x":{"field":"t","type":"quantitative"},"y":{"datum":130,"type":"quantitative"}}},
          {"transform":[{"filter":"datum.label == 'EST'"}],
           "mark":{"type":"point","shape":"M-1,-1L1,1M1,-1L-1,1","size":150,"filled":false,"color":"#111111","strokeWidth":2,"opacity":1},
           "encoding":{"x":{"field":"t","type":"quantitative"},"y":{"datum":130,"type":"quantitative"}}},
          {"mark":{"type":"text","fontSize":22,"align":"center","baseline":"alphabetic","dx":-5},
           "encoding":{"x":{"field":"t","type":"quantitative"},"y":{"datum":140,"type":"quantitative"},"text":{"field":"label"}}},
          {"mark":{"type":"text","fontSize":13,"align":"left","baseline":"alphabetic","dx":15},
           "encoding":{"x":{"field":"t","type":"quantitative"},"y":{"datum":140,"type":"quantitative"},"text":{"field":"sub"}}}
        ]},
       {"data":{"values":[{}]},
        "mark":{"type":"text","text":"SDF (s/sec)","angle":270,"fontSize":22,"align":"center","baseline":"middle"},
        "encoding":{"x":{"datum":-114.4,"type":"quantitative"},"y":{"datum":75.8,"type":"quantitative"}}}
     ]},
    {"width":130,"height":203,"data":{"values":[{}]},
     "mark":{"type":"point","shape":"M-1,-0.435L0.217,-0.435L0.217,-0.754L1,0L0.217,0.754L0.217,0.435L-1,0.435Z","size":4761,"filled":true,"fill":"#c8c8c8","stroke":"#2a2a2a","strokeWidth":2,"opacity":1},
     "encoding":{"x":{"datum":20,"type":"quantitative","scale":{"domain":[0,100],"nice":false},"axis":null},
                 "y":{"datum":49.8,"type":"quantitative","scale":{"domain":[0,100],"nice":false},"axis":null}}},
    {"width":231,"height":203,
     "layer":[
       {"data":{"values":[{}]},"mark":{"type":"rect","color":"#c6c6c6"},
        "encoding":{"y":{"datum":-4,"type":"quantitative"},"y2":{"datum":4}}},
       {"data":{"name":"levels"},"transform":[{"filter":"datum.panel == 'BM'"}],
        "mark":{"type":"rule","color":"#8a8a8a","strokeWidth":1.5,"strokeDash":[10,7]},
        "encoding":{"y":{"field":"lvl","type":"quantitative"}}},
       {"data":{"values":[{}]},"mark":{"type":"rule","color":"#111111","strokeWidth":2},
        "encoding":{"y":{"datum":0,"type":"quantitative"}}},
       {"data":{"name":"bm"},
        "mark":{"type":"line","color":"#e3173e","strokeWidth":2.2,"strokeDash":[4,3]},
        "encoding":{
          "x":{"field":"t","type":"quantitative","scale":{"domain":[0,315],"nice":false},
               "axis":{"values":[0,100,200,300],"labelExpr":"datum.value == 0 || datum.value == 200 ? datum.label : ''","labelOverlap":false,"title":"Time from search array (ms)","titlePadding":8,"titleX":106}},
          "y":{"field":"v","type":"quantitative","scale":{"domain":[-100,100],"nice":false},
               "axis":{"values":[-100,-50,0,50,100],"labelExpr":"datum.value == 100 ? '100' : datum.value == 0 ? '0' : datum.value == -100 ? '-100' : ''","labelOverlap":false,"title":null}}}},
       {"data":{"name":"events"},"transform":[{"filter":"datum.panel == 'BM'"}],
        "layer":[
          {"mark":{"type":"rule","color":"#111111","strokeWidth":2,"strokeDash":[6,4]},
           "encoding":{"x":{"field":"t","type":"quantitative"},"y":{"datum":66,"type":"quantitative"},"y2":{"datum":-100}}},
          {"transform":[{"filter":"datum.label == 'SST'"}],
           "mark":{"type":"point","shape":"circle","size":130,"filled":false,"color":"#111111","strokeWidth":2,"opacity":1},
           "encoding":{"x":{"field":"t","type":"quantitative"},"y":{"datum":71.7,"type":"quantitative"}}},
          {"transform":[{"filter":"datum.label == 'EST'"}],
           "mark":{"type":"point","shape":"M-1,-1L1,1M1,-1L-1,1","size":150,"filled":false,"color":"#111111","strokeWidth":2,"opacity":1},
           "encoding":{"x":{"field":"t","type":"quantitative"},"y":{"datum":71.7,"type":"quantitative"}}},
          {"mark":{"type":"text","fontSize":22,"align":"center","baseline":"alphabetic","dx":-5},
           "encoding":{"x":{"field":"t","type":"quantitative"},"y":{"datum":86.5,"type":"quantitative"},"text":{"field":"label"}}},
          {"mark":{"type":"text","fontSize":13,"align":"left","baseline":"alphabetic","dx":15},
           "encoding":{"x":{"field":"t","type":"quantitative"},"y":{"datum":86.5,"type":"quantitative"},"text":{"field":"sub"}}}
        ]},
       {"data":{"values":[{}]},
        "mark":{"type":"text","text":"ΔSDF","angle":270,"fontSize":22,"align":"center","baseline":"middle"},
        "encoding":{"x":{"datum":-55.2,"type":"quantitative"},"y":{"datum":-9,"type":"quantitative"}}},
       {"data":{"values":[{}]},
        "mark":{"type":"text","text":"anti","angle":270,"fontSize":13,"align":"center","baseline":"middle"},
        "encoding":{"x":{"datum":-40,"type":"quantitative"},"y":{"datum":35,"type":"quantitative"}}}
     ]},
    {"width":226,"height":203,"data":{"values":[]},"mark":"point"},
    {"width":219,"height":203,
     "layer":[
       {"data":{"values":[{}]},"mark":{"type":"rect","color":"#c6c6c6"},
        "encoding":{"y":{"datum":-4,"type":"quantitative"},"y2":{"datum":4}}},
       {"data":{"name":"levels"},"transform":[{"filter":"datum.panel == 'BR'"}],
        "mark":{"type":"rule","color":"#8a8a8a","strokeWidth":1.5,"strokeDash":[10,7]},
        "encoding":{"y":{"field":"lvl","type":"quantitative"}}},
       {"data":{"values":[{}]},"mark":{"type":"rule","color":"#111111","strokeWidth":2},
        "encoding":{"y":{"datum":0,"type":"quantitative"}}},
       {"data":{"name":"br"},
        "mark":{"type":"line","color":"#e3173e","strokeWidth":3},
        "encoding":{
          "x":{"field":"t","type":"quantitative","scale":{"domain":[0,310],"nice":false},
               "axis":{"values":[0,100,200,300],"labelExpr":"datum.value == 0 || datum.value == 200 ? datum.label : ''","labelOverlap":false,"title":null}},
          "y":{"field":"v","type":"quantitative","scale":{"domain":[-150,150],"nice":false},
               "axis":{"values":[-100,-50,0,50,100],"labelExpr":"datum.value == 100 ? '100' : datum.value == 0 ? '0' : datum.value == -100 ? '-100' : ''","labelOverlap":false,"title":null}}}},
       {"data":{"name":"br"},
        "mark":{"type":"line","color":"#111111","strokeWidth":2,"strokeDash":[4,3]},
        "encoding":{"x":{"field":"t","type":"quantitative"},"y":{"field":"v","type":"quantitative"}}},
       {"data":{"name":"events"},"transform":[{"filter":"datum.panel == 'BR'"}],
        "layer":[
          {"mark":{"type":"rule","color":"#1ca9e1","strokeWidth":4},
           "encoding":{"x":{"field":"t","type":"quantitative"},"y":{"datum":145,"type":"quantitative"},"y2":{"datum":-150}}}
        ]},
       {"data":{"values":[{}]},
        "mark":{"type":"text","text":"ΔSDF","angle":270,"fontSize":22,"align":"center","baseline":"middle"},
        "encoding":{"x":{"datum":-136.6,"type":"quantitative"},"y":{"datum":-93,"type":"quantitative"}}},
       {"data":{"values":[{}]},
        "mark":{"type":"text","text":"pro","angle":270,"fontSize":13,"align":"center","baseline":"middle"},
        "encoding":{"x":{"datum":-119.6,"type":"quantitative"},"y":{"datum":-37,"type":"quantitative"}}},
       {"data":{"values":[{}]},
        "mark":{"type":"text","text":"- ΔSDF","angle":270,"fontSize":22,"align":"center","baseline":"middle"},
        "encoding":{"x":{"datum":-136.6,"type":"quantitative"},"y":{"datum":36,"type":"quantitative"}}},
       {"data":{"values":[{}]},
        "mark":{"type":"text","text":"anti","angle":270,"fontSize":13,"align":"center","baseline":"middle"},
        "encoding":{"x":{"datum":-119.6,"type":"quantitative"},"y":{"datum":112,"type":"quantitative"}}}
     ]},
    {"width":6,"height":203,"data":{"values":[]},"mark":"point"},

    {"width":105,"height":66,"data":{"values":[]},"mark":"point"},
    {"width":215,"height":66,"data":{"values":[]},"mark":"point"},
    {"width":130,"height":66,"data":{"values":[]},"mark":"point"},
    {"width":231,"height":66,"data":{"values":[]},"mark":"point"},
    {"width":226,"height":66,"data":{"values":[]},"mark":"point"},
    {"width":219,"height":66,"data":{"values":[]},"mark":"point"},
    {"width":6,"height":66,"data":{"values":[]},"mark":"point"}
  ],
  "config": {
    "view": {"stroke": null},
    "font": "Liberation Sans",
    "axis": {
      "domainColor": "#1a1a1a", "domainWidth": 2,
      "tickColor": "#1a1a1a", "tickWidth": 2, "tickSize": 9,
      "labelFont": "Liberation Sans", "labelFontSize": 22, "labelColor": "#111111",
      "labelFlush": false, "labelOverlap": false, "grid": false,
      "titleFont": "Liberation Sans", "titleFontSize": 22, "titleFontWeight": "normal", "titleColor": "#111111"
    },
    "axisX": {"labelPadding": 1},
    "axisY": {"labelPadding": 4},
    "text": {"font": "Liberation Sans", "color": "#111111"}
  }
}
